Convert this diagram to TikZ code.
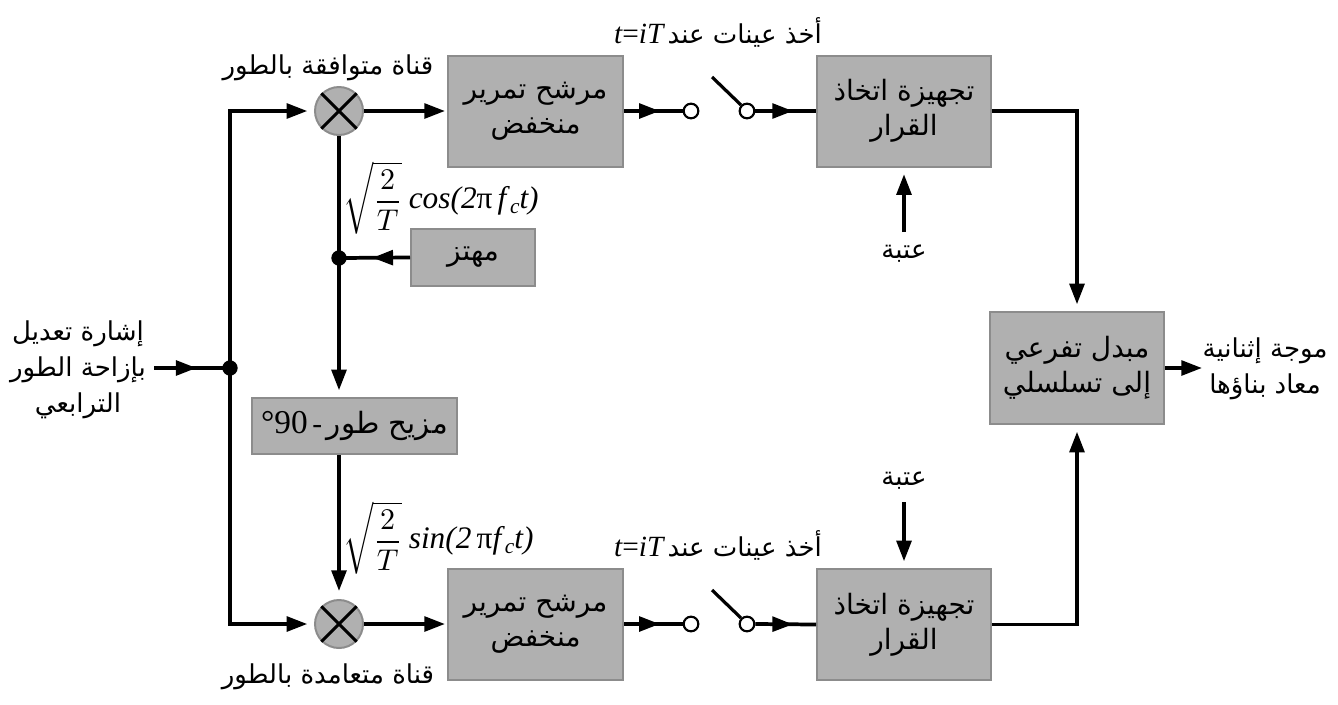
\documentclass[tikz,border=0pt]{standalone}
\usepackage{graphicx}
\usepackage{fontspec}
\setmainfont{Liberation Serif}
\newfontfamily\arabicfont[Script=Arabic]{DejaVu Sans}
\TeXXeTstate=1
\usetikzlibrary{arrows.meta,decorations.markings}
\definecolor{boxgray}{HTML}{B0B0B0}
\definecolor{edgegray}{HTML}{8C8C8C}
\newcommand{\artxt}[1]{{\arabicfont\beginR #1\endR}}
\newcommand{\latinit}[1]{{\rmfamily\itshape #1}}
\newcommand{\sqrtfrac}{\raisebox{-1pt}{\scalebox{2.25}{\fontsize{10}{12}\selectfont$\sqrt{\displaystyle\frac{2}{T}}$}}}
\begin{document}
\begin{tikzpicture}[x=0.75pt,y=-0.75pt,
  boxfont/.style={font=\arabicfont\fontsize{21}{26.5}\selectfont},
  labfont/.style={font=\arabicfont\fontsize{19.5}{27}\selectfont},
  blk/.style={draw=edgegray, line width=1.5pt, fill=boxgray, align=center, inner sep=0pt, boxfont},
  lpfbox/.style={blk, minimum width=131.25pt, minimum height=83.25pt},
  decbox/.style={blk, minimum width=130.5pt, minimum height=83.25pt},
  mixer/.style={circle, draw=edgegray, line width=1.5pt, fill=boxgray, minimum size=36pt, inner sep=0pt},
  jdot/.style={circle, fill=black, minimum size=11.5pt, inner sep=0pt},
  term/.style={circle, draw=black, line width=1.6pt, fill=white, minimum size=11pt, inner sep=0pt},
  lab/.style={align=center, inner sep=0pt, labfont},
  wire/.style={line width=2.8pt},
  tipA/.tip={Triangle[length=15.5pt,width=11pt]},
  arr/.style={wire, -tipA},
  midarrow/.style={wire, postaction={decorate}, decoration={markings, mark=at position #1 with {\arrow{tipA}}}},
  crossline/.style={line width=2.2pt},
  blade/.style={line width=2.4pt},
  formula/.style={anchor=west, inner sep=0pt, font=\fontsize{23.5}{26}\selectfont},
  ]
\useasboundingbox (0,0) rectangle (1338,704);

% ---- nodes ----
\node[jdot] (jin) at (230,368) {};
\node[mixer] (mix1) at (339,111) {};
\node[mixer] (mix2) at (339,624) {};
\node[lpfbox] (lpf1) at (535.5,111) {\artxt{مرشح تمرير}\\\artxt{منخفض}};
\node[lpfbox] (lpf2) at (535.5,624) {\artxt{مرشح تمرير}\\\artxt{منخفض}};
\node[term] (sa1) at (691,111) {};
\node[term] (sb1) at (747,111) {};
\node[term] (sa2) at (691,624) {};
\node[term] (sb2) at (747,624) {};
\coordinate (sw1) at (712,77);
\coordinate (sw2) at (712,590);
\node[decbox] (dec1) at (904,111) {\artxt{تجهيزة اتخاذ}\\\artxt{القرار}};
\node[decbox] (dec2) at (904,624.5) {\artxt{تجهيزة اتخاذ}\\\artxt{القرار}};
\node[blk, minimum width=130.5pt, minimum height=84pt] (ps) at (1077,368) {\artxt{مبدل تفرعي}\\\artxt{إلى تسلسلي}};
\node[blk, minimum width=93pt, minimum height=42.75pt] (osc) at (473,257.5) {\artxt{مهتز}};
\node[jdot] (dot2) at (339,258) {};
\node[blk, minimum width=153.75pt, minimum height=42pt] (phs) at (354.5,426)
  {{\rmfamily\fontsize{25}{26}\selectfont °90}\,{\rmfamily\fontsize{22}{26}\selectfont -}\,{\fontsize{22}{26}\selectfont\artxt{مزيح طور}}};

% labels
\node[lab] (inlab) at (78,370) {\artxt{إشارة تعديل}\\\artxt{بإزاحة الطور}\\\artxt{الترابعي}};
\coordinate (instart) at (154,368);
\node[lab] (outlab) at (1265,369) {\artxt{موجة إثنانية}\\\artxt{معاد بناؤها}};
\coordinate (outend) at (1202,368);
\node[lab] (toplab) at (328,68) {\artxt{قناة متوافقة بالطور}};
\node[lab] (botlab) at (328,677) {\artxt{قناة متعامدة بالطور}};
\node[lab] (samp1) at (718,32) {{\fontsize{22}{26}\selectfont\latinit{t}{\rmfamily =}\latinit{iT}}\,\artxt{أخذ عينات عند}};
\node[lab] (samp2) at (718,545) {{\fontsize{22}{26}\selectfont\latinit{t}{\rmfamily =}\latinit{iT}}\,\artxt{أخذ عينات عند}};
\node[lab] (thr1) at (904,254) {\artxt{عتبة}};
\node[lab] (thr2) at (904,481) {\artxt{عتبة}};
\coordinate (thr1s) at (904,232);
\coordinate (thr2s) at (904,502);
\node[formula] (coslab) at (343,198)
  {\sqrtfrac\hspace{5pt}\textit{cos(2}π\,\textit{f}\raisebox{-4pt}{\fontsize{16}{17}\selectfont\textit{c}}\textit{t)}};
\node[formula] (sinlab) at (343,538)
  {\sqrtfrac\hspace{5pt}\textit{sin(2}\,π\textit{f}\raisebox{-4pt}{\fontsize{16}{17}\selectfont\textit{c}}\textit{t)}};

% mixer crosses
\foreach \m in {mix1,mix2}{
  \draw[crossline] (\m.45) -- (\m.225);
  \draw[crossline] (\m.135) -- (\m.315);
}

% ---- connectors ----
\draw[midarrow=0.56] (instart) -- (jin.center);
\draw[arr, shorten >=5pt] (jin.center) |- (mix1.west);
\draw[arr, shorten >=5pt] (jin.center) |- (mix2.west);
\draw[arr, shorten >=1.5pt] (mix1.east) -- (lpf1.west);
\draw[arr, shorten >=1.5pt] (mix2.east) -- (lpf2.west);
\draw[midarrow=0.61] (lpf1.east) -- (sa1.west);
\draw[midarrow=0.61] (lpf2.east) -- (sa2.west);
\draw[blade] (sw1) -- (sb1.135);
\draw[blade] (sw2) -- (sb2.135);
\draw[midarrow=0.62] (sb1.east) -- (dec1.west);
\draw[midarrow=0.62] (sb2.east) -- (dec2.west);
\draw[arr, shorten >=5pt] (thr1s) -- (dec1.south);
\draw[arr, shorten >=5pt] (thr2s) -- (dec2.north);
\draw[arr, shorten >=5pt] (dec1.east) -| (ps.north);
\draw[arr, shorten >=5pt] (dec2.east) -| (ps.south);
\draw[arr] (ps.east) -- (outend);
\draw[arr, shorten >=5pt] (mix1.south) -- (mix1 |- phs.north);
\draw[midarrow=0.53] (osc.west) -- (dot2.center);
\draw[arr, shorten >=6pt] (mix1 |- phs.south) -- (mix2.north);
\end{tikzpicture}
\end{document}
